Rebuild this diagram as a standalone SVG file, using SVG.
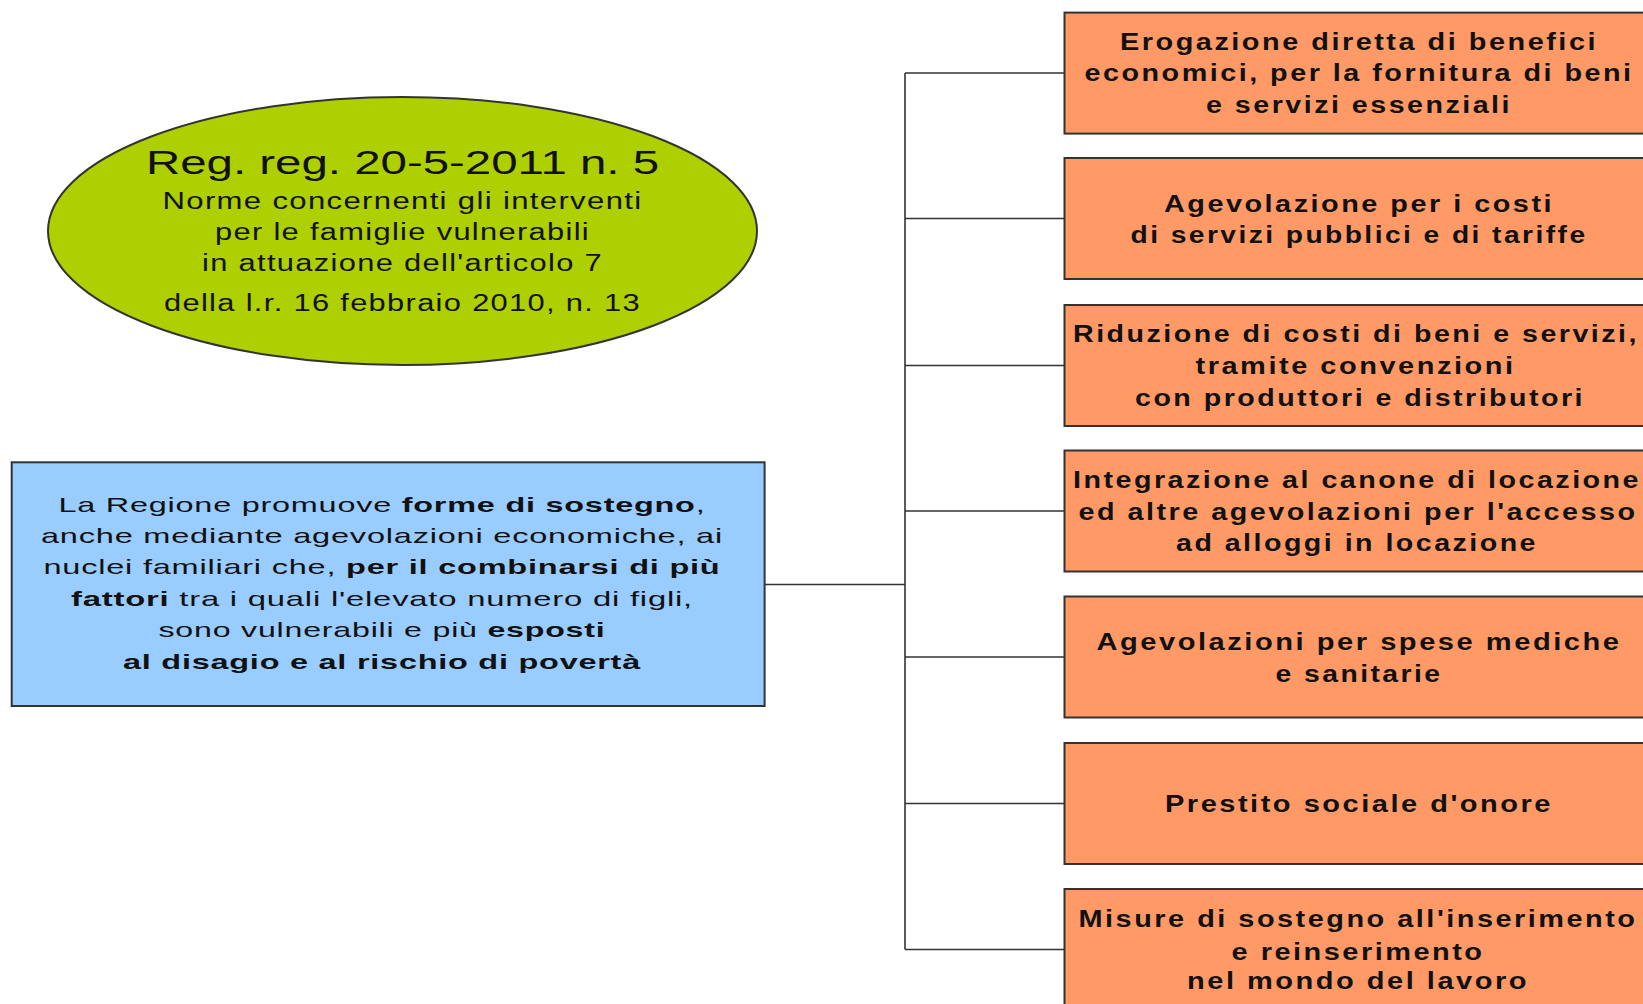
<svg xmlns="http://www.w3.org/2000/svg" width="1643" height="1004" viewBox="0 0 1643 1004">
<style>
  text { font-family: "Liberation Sans", Arial, sans-serif; fill: #111; text-anchor: middle; }
  .title { font-size: 33px; }
  .sub { font-size: 23px; letter-spacing: 1px; }
  .blue { font-size: 21px; letter-spacing: 0.5px; }
  .b { font-weight: bold; }
  .org { font-size: 23px; font-weight: bold; letter-spacing: 2px; }
  .obox { fill: #FF9966; stroke: #333; stroke-width: 2; }
  .conn { fill: none; stroke: #333; stroke-width: 1.6; }
</style>
<rect width="1643" height="1004" fill="#fff"/>
<g id="connectors">
  <path class="conn" d="M764.6,584.5 H905 M905,73 V949.5 M905,73 H1064.5 M905,218.5 H1064.5 M905,365.5 H1064.5 M905,511 H1064.5 M905,657 H1064.5 M905,803.5 H1064.5 M905,949.5 H1064.5"/>
</g>
<g id="ellipse-title">
  <ellipse cx="402.5" cy="231" rx="354.5" ry="134" fill="#AECF00" stroke="#333" stroke-width="2"/>
  <text class="title" x="402.5" y="174" textLength="513" lengthAdjust="spacingAndGlyphs">Reg. reg. 20-5-2011 n. 5</text>
  <text class="sub" x="402.5" y="209" textLength="480" lengthAdjust="spacingAndGlyphs">Norme concernenti gli interventi</text>
  <text class="sub" x="402.5" y="239.5" textLength="375" lengthAdjust="spacingAndGlyphs">per le famiglie vulnerabili</text>
  <text class="sub" x="402.5" y="271" textLength="401" lengthAdjust="spacingAndGlyphs">in attuazione dell'articolo 7</text>
  <text class="sub" x="402.5" y="311" textLength="477" lengthAdjust="spacingAndGlyphs">della l.r. 16 febbraio 2010, n. 13</text>
</g>
<g id="blue-box">
  <rect x="11.7" y="462.3" width="752.9" height="243.7" fill="#99CCFF" stroke="#333" stroke-width="2"/>
  <text class="blue" x="382" y="512" textLength="647" lengthAdjust="spacingAndGlyphs">La Regione promuove <tspan class="b">forme di sostegno</tspan>,</text>
  <text class="blue" x="382" y="543" textLength="682" lengthAdjust="spacingAndGlyphs">anche mediante agevolazioni economiche, ai</text>
  <text class="blue" x="382" y="574" textLength="677" lengthAdjust="spacingAndGlyphs">nuclei familiari che, <tspan class="b">per il combinarsi di più</tspan></text>
  <text class="blue" x="382" y="605.5" textLength="622" lengthAdjust="spacingAndGlyphs"><tspan class="b">fattori</tspan>  tra i quali l'elevato numero di figli,</text>
  <text class="blue" x="382" y="636.5" textLength="447" lengthAdjust="spacingAndGlyphs">sono vulnerabili e più <tspan class="b">esposti</tspan></text>
  <text class="blue b" x="382" y="669" textLength="518" lengthAdjust="spacingAndGlyphs">al disagio e al rischio di povertà</text>
</g>
<g id="box1">
  <rect class="obox" x="1064.5" y="12.6" width="590" height="121"/>
  <text class="org" x="1359" y="50" textLength="478" lengthAdjust="spacingAndGlyphs">Erogazione diretta di benefici</text>
  <text class="org" x="1359" y="81" textLength="549" lengthAdjust="spacingAndGlyphs">economici, per la fornitura di beni</text>
  <text class="org" x="1359" y="113" textLength="306" lengthAdjust="spacingAndGlyphs">e servizi essenziali</text>
</g>
<g id="box2">
  <rect class="obox" x="1064.5" y="158" width="590" height="121"/>
  <text class="org" x="1359" y="211.5" textLength="390" lengthAdjust="spacingAndGlyphs">Agevolazione per i costi</text>
  <text class="org" x="1359" y="243" textLength="457" lengthAdjust="spacingAndGlyphs">di servizi pubblici e di tariffe</text>
</g>
<g id="box3">
  <rect class="obox" x="1064.5" y="305" width="590" height="121"/>
  <text class="org" x="1356" y="342" textLength="566" lengthAdjust="spacingAndGlyphs">Riduzione di costi di beni e servizi,</text>
  <text class="org" x="1355.5" y="373.5" textLength="320" lengthAdjust="spacingAndGlyphs">tramite convenzioni</text>
  <text class="org" x="1360" y="406" textLength="450" lengthAdjust="spacingAndGlyphs">con produttori e distributori</text>
</g>
<g id="box4">
  <rect class="obox" x="1064.5" y="450.5" width="590" height="121"/>
  <text class="org" x="1357" y="488" textLength="568" lengthAdjust="spacingAndGlyphs">Integrazione al canone di locazione</text>
  <text class="org" x="1358" y="519.5" textLength="559" lengthAdjust="spacingAndGlyphs">ed altre agevolazioni per l'accesso</text>
  <text class="org" x="1357" y="550.5" textLength="362" lengthAdjust="spacingAndGlyphs">ad alloggi in locazione</text>
</g>
<g id="box5">
  <rect class="obox" x="1064.5" y="596.5" width="590" height="121"/>
  <text class="org" x="1359" y="650" textLength="525" lengthAdjust="spacingAndGlyphs">Agevolazioni per spese mediche</text>
  <text class="org" x="1359" y="681.5" textLength="167" lengthAdjust="spacingAndGlyphs">e sanitarie</text>
</g>
<g id="box6">
  <rect class="obox" x="1064.5" y="743" width="590" height="121"/>
  <text class="org" x="1359" y="811.5" textLength="388" lengthAdjust="spacingAndGlyphs">Prestito sociale d'onore</text>
</g>
<g id="box7">
  <rect class="obox" x="1064.5" y="889" width="590" height="121"/>
  <text class="org" x="1358" y="926.5" textLength="559" lengthAdjust="spacingAndGlyphs">Misure di sostegno all'inserimento</text>
  <text class="org" x="1358" y="959.5" textLength="253" lengthAdjust="spacingAndGlyphs">e reinserimento</text>
  <text class="org" x="1358" y="989" textLength="342" lengthAdjust="spacingAndGlyphs">nel mondo del lavoro</text>
</g>
</svg>
